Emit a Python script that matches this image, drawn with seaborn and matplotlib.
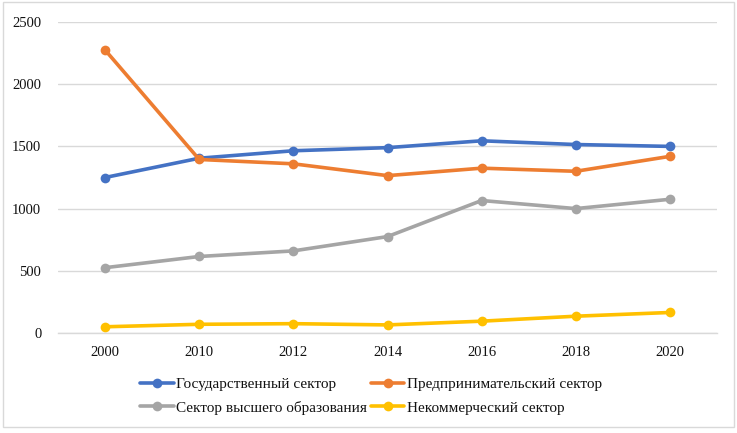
import matplotlib
matplotlib.use("Agg")
import matplotlib.pyplot as plt
import seaborn as sns
import pandas as pd
from matplotlib.lines import Line2D
from matplotlib.patches import Rectangle

years = ["2000", "2010", "2012", "2014", "2016", "2018", "2020"]
gov = [1250, 1405, 1465, 1490, 1545, 1515, 1500]
business = [2275, 1395, 1360, 1265, 1325, 1300, 1420]
higher_ed = [525, 615, 660, 775, 1065, 1000, 1075]
nonprofit = [50, 70, 75, 65, 95, 135, 165]

series_names = ["Государственный сектор", "Предпринимательский сектор",
                "Сектор высшего образования", "Некоммерческий сектор"]
series_values = [gov, business, higher_ed, nonprofit]
colors = ["#4472C4", "#ED7D31", "#A5A5A5", "#FFC000"]

rows = []
for name, vals in zip(series_names, series_values):
    for y, v in zip(years, vals):
        rows.append({"Год": y, "Значение": v, "Сектор": name})
df = pd.DataFrame(rows)

sns.set_theme(style="white")
plt.rcParams["font.family"] = ["Liberation Serif", "DejaVu Serif"]

fig = plt.figure(figsize=(7.37, 4.33), dpi=100)
ax = fig.add_axes([58/737, 1-333/433, (717-58)/737, (333-22)/433])

palette = dict(zip(series_names, colors))
sns.lineplot(data=df, x="Год", y="Значение", hue="Сектор", palette=palette,
             marker="o", markersize=7, markeredgewidth=0, linewidth=2.6,
             ax=ax, legend=False, sort=False)

ax.set_xlim(-0.5, len(years) - 0.5)
ax.set_ylim(0, 2500)
ax.set_yticks([0, 500, 1000, 1500, 2000, 2500])
ax.grid(axis="y", color="#d9d9d9", linewidth=1)
ax.set_axisbelow(True)
for s in ["top", "right", "left"]:
    ax.spines[s].set_visible(False)
ax.spines["bottom"].set_color("#d9d9d9")
ax.spines["bottom"].set_linewidth(1)
ax.set_xlabel("")
ax.set_ylabel("")
ax.tick_params(axis="y", length=0, pad=12, labelsize=10.5, labelcolor="#111111")
ax.tick_params(axis="x", length=0, pad=9, labelsize=10.5, labelcolor="#111111")

order = [0, 2, 1, 3]
handles = [Line2D([0], [0], color=colors[i], lw=2.6, marker="o", markersize=7,
                  markeredgewidth=0) for i in order]
labels = [series_names[i] for i in order]
fig.legend(handles, labels, loc="center", bbox_to_anchor=(371/737, 1-396/433),
           ncol=2, frameon=False, fontsize=11, handlelength=2.2,
           handletextpad=0.15, columnspacing=0.25, labelspacing=0.65,
           labelcolor="#111111")

fig.patches.append(Rectangle((3/737, 1-427/433), 731/737, 425/433,
                             transform=fig.transFigure, fill=False,
                             edgecolor="#d9d9d9", linewidth=1))

fig.savefig("out.png", dpi=100)
